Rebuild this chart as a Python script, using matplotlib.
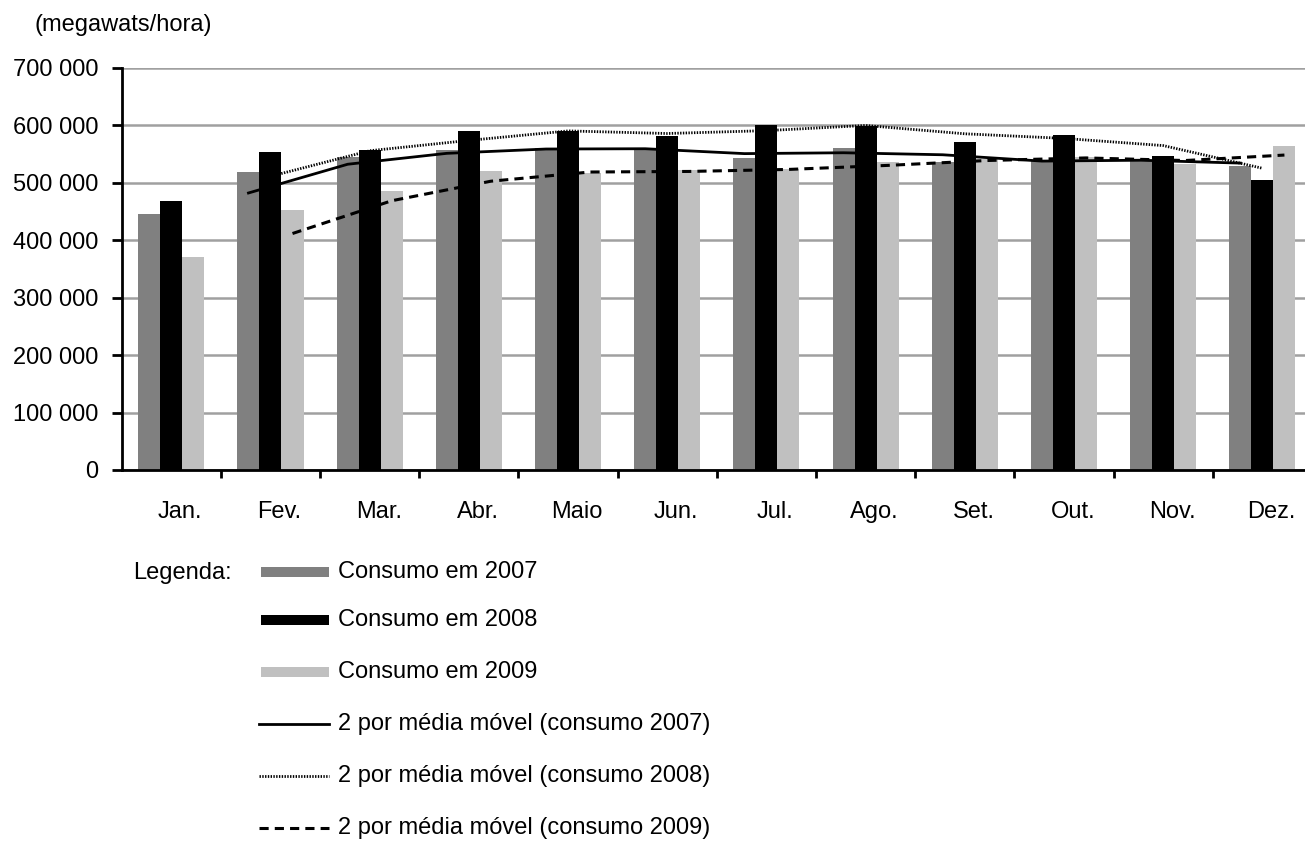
import numpy as np
import pandas as pd
import matplotlib
matplotlib.use("Agg")
import matplotlib.pyplot as plt
import matplotlib.transforms as mtransforms
from matplotlib.patches import Rectangle
from matplotlib.lines import Line2D

plt.rcParams['font.family'] = ['Liberation Sans', 'DejaVu Sans']
plt.rcParams['font.size'] = 17

months = ['Jan.', 'Fev.', 'Mar.', 'Abr.', 'Maio', 'Jun.', 'Jul.', 'Ago.', 'Set.', 'Out.', 'Nov.', 'Dez.']
consumo_2007 = [445000, 519000, 545000, 557000, 560000, 558000, 543000, 561000, 536000, 539000, 539000, 529000]
consumo_2008 = [468000, 554000, 557000, 590000, 590000, 581000, 600000, 599000, 571000, 583000, 546000, 504000]
consumo_2009 = [371000, 452000, 485000, 520000, 517000, 522000, 524000, 536000, 541000, 545000, 532000, 564000]
series_labels = ['Consumo em 2007', 'Consumo em 2008', 'Consumo em 2009']
ma_labels = ['2 por média móvel (consumo 2007)',
             '2 por média móvel (consumo 2008)',
             '2 por média móvel (consumo 2009)']
y_ticks = [0, 100000, 200000, 300000, 400000, 500000, 600000, 700000]

colors = ['#808080', '#000000', '#c0c0c0']
ma_styles = [dict(linestyle='-', linewidth=2.0),
             dict(linestyle=(0, (0.5, 0.5)), linewidth=2.0),
             dict(linestyle=(0, (3, 2)), linewidth=2.2)]

W, H = 1305, 841
fig = plt.figure(figsize=(W / 100, H / 100), dpi=100)
ax = fig.add_axes([121.7 / W, 1 - 470 / H, (1312 - 121.7) / W, (470 - 67.7) / H])

x = np.arange(len(months))
bw = 0.222
offsets = [-bw, 0, bw]
all_series = [consumo_2007, consumo_2008, consumo_2009]

ax.set_axisbelow(True)
for vals, off, c in zip(all_series, offsets, colors):
    ax.bar(x + off, vals, width=bw, color=c, edgecolor='none')

# 2-period moving average trendlines, drawn over each series' bars
for vals, off, st in zip(all_series, offsets, ma_styles):
    ma = pd.Series(vals).rolling(2).mean()
    ax.plot(x[1:] + off, ma[1:], color='black', **st)

ax.set_xlim(-0.5, 11.5)
ax.set_ylim(0, 700000)
ax.set_yticks(y_ticks)
ax.set_yticklabels([f'{v:,}'.replace(',', ' ') for v in y_ticks])
ax.yaxis.grid(True, color='#a0a0a0', linewidth=1.8)
ax.set_xticks(x)
ax.set_xticklabels(months)
ax.set_xticks(np.arange(0.5, 11.5, 1), minor=True)
ax.tick_params(axis='x', which='major', length=0, pad=22)
ax.tick_params(axis='x', which='minor', length=6, width=2, direction='out')
ax.tick_params(axis='y', length=7, width=2, pad=10)
offset = mtransforms.ScaledTranslation(0.09, 0, fig.dpi_scale_trans)
for lbl in ax.get_xticklabels():
    lbl.set_transform(lbl.get_transform() + offset)

for side in ['top', 'right']:
    ax.spines[side].set_visible(False)
for side in ['left', 'bottom']:
    ax.spines[side].set_linewidth(2)

fig.text(35 / W, 1 - 25 / H, '(megawats/hora)', ha='left', va='center')

# legend block below the plot, in pixel coordinates
lg = fig.add_axes([0, 0, 1, 1])
lg.set_xlim(0, W)
lg.set_ylim(H, 0)
lg.axis('off')
lg.text(133, 573, 'Legenda:', ha='left', va='center')
rows = [572, 620, 672, 724, 776, 828]
for r, lab, c in zip(rows[:3], series_labels, colors):
    lg.add_patch(Rectangle((261, r - 5), 68, 10, color=c, lw=0))
    lg.text(338, r, lab, ha='left', va='center')
for r, lab, st in zip(rows[3:], ma_labels, ma_styles):
    lg.add_line(Line2D([259, 329], [r, r], color='black', **st))
    lg.text(338, r, lab, ha='left', va='center')

fig.savefig('out.png', dpi=100)
